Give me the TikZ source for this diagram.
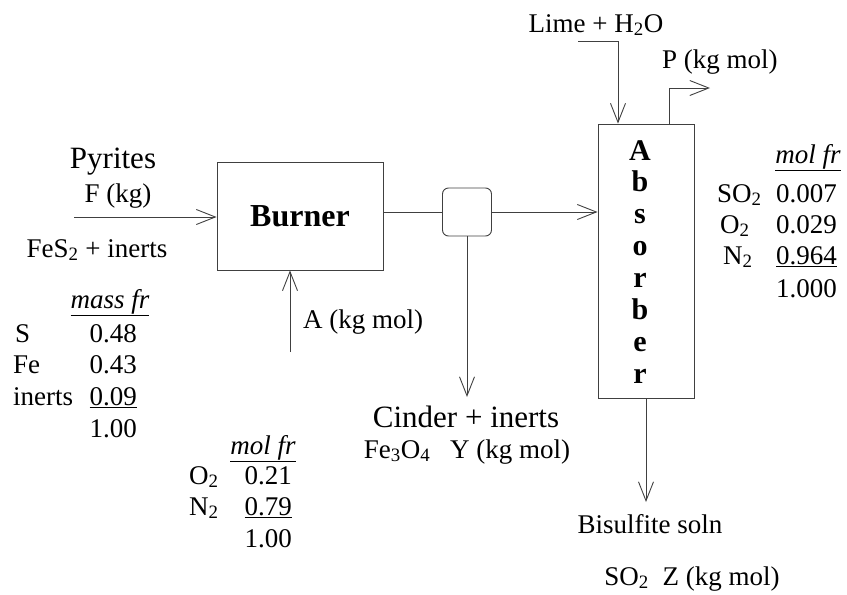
\documentclass[tikz,border=0pt]{standalone}
\usepackage{fontspec}
\setmainfont{Liberation Serif}
\usetikzlibrary{arrows.meta,positioning}
\definecolor{linegray}{HTML}{404040}
\newcommand{\chsub}[1]{\textsubscript{#1}}

\begin{document}
\begin{tikzpicture}[
  x=1pt, y=-1pt,
  unit/.style={rectangle, draw=linegray, line width=0.9pt, inner sep=0pt},
  txt/.style={inner sep=0pt, anchor=base, font=\fontsize{27}{30}\selectfont},
  bigtxt/.style={txt, font=\fontsize{31}{34}\selectfont},
  lettertxt/.style={txt, font=\fontsize{30}{32}\selectfont\bfseries},
  flow/.style={-{Straight Barb[length=19pt,width=15pt]}, line width=0.9pt, draw=linegray},
  pipe/.style={line width=0.9pt, draw=linegray}
]
\useasboundingbox (0,0) rectangle (847,595);

% process units
\node[unit, minimum width=166pt, minimum height=108pt, font=\fontsize{32}{34}\selectfont\bfseries] (burner) at (300,216) {Burner};
\node[unit, rounded corners=6pt, minimum width=49pt, minimum height=48pt] (mixer) at (467,212) {};
\node[unit, minimum width=96pt, minimum height=274pt] (absorber) at (646,261) {};
\foreach \ch [count=\i from 0] in {A,b,s,o,r,b,e,r}
  \node[lettertxt] (absletter\i) at (640,160+31.9*\i) {\ch};

% stream ends
\coordinate (feedin) at (74,217);
\coordinate (airin) at (290,352);
\coordinate (cinderout) at (467,397);
\coordinate (limein) at (578,41);
\coordinate (ventout) at (710,88);
\coordinate (solnout) at (646,502);

\draw[flow] (feedin) -- (feedin -| burner.west);
\draw[flow] (airin) -- (airin |- burner.south);
\draw[pipe] (mixer.west -| burner.east) -- (mixer.west);
\draw[flow] (mixer.east) -- (mixer.east -| absorber.west);
\draw[flow] (mixer.south) -- (cinderout);
\draw[flow] (limein) -| ([xshift=-28pt]absorber.north);
\draw[flow] ([xshift=23pt]absorber.north) |- (ventout);
\draw[flow] (absorber.south) -- (solnout);

% feed
\node[bigtxt] (pyrites) at (113,168) {Pyrites};
\node[txt] (feedkg) at (118,202) {F (kg)};
\node[txt] (feedcomp) at (97,257) {FeS\chsub{2} + inerts};
\node[txt] (massfr) at (110,308) {\underline{\textit{mass fr}}};
\node[txt, anchor=base west] (elS) at (15,342) {S};
\node[txt, anchor=base east] (valS) at (137,342) {0.48};
\node[txt, anchor=base west] (elFe) at (13,373) {Fe};
\node[txt, anchor=base east] (valFe) at (137,373) {0.43};
\node[txt, anchor=base west] (elinert) at (13,405) {inerts};
\node[txt, anchor=base east] (valinert) at (137,405) {\underline{0.09}};
\node[txt, anchor=base east] (masssum) at (137,437) {1.00};

% air
\node[txt, anchor=base west] (airlbl) at (303,328) {A (kg mol)};
\node[txt] (airfr) at (263,454) {\underline{\textit{mol fr}}};
\node[txt, anchor=base west] (airO) at (189,484) {O\chsub{2}};
\node[txt, anchor=base east] (airOval) at (292,484) {0.21};
\node[txt, anchor=base west] (airN) at (189,515) {N\chsub{2}};
\node[txt, anchor=base east] (airNval) at (292,515) {\underline{0.79}};
\node[txt, anchor=base east] (airsum) at (292,547) {1.00};

% cinder
\node[bigtxt] (cinder) at (466,427) {Cinder + inerts};
\node[txt] (cindercomp) at (467,458) {Fe\chsub{3}O\chsub{4}\hspace{20pt}Y (kg mol)};

% absorber streams
\node[txt] (lime) at (596,32) {Lime + H\chsub{2}O};
\node[txt, anchor=base west] (ventlbl) at (662,68) {P (kg mol)};
\node[txt] (ventfr) at (808,163) {\underline{\textit{mol fr}}};
\node[txt, anchor=base west] (ventS) at (717,202) {SO\chsub{2}};
\node[txt, anchor=base east] (ventSval) at (837,202) {0.007};
\node[txt, anchor=base west] (ventO) at (720,233) {O\chsub{2}};
\node[txt, anchor=base east] (ventOval) at (837,233) {0.029};
\node[txt, anchor=base west] (ventN) at (723,264) {N\chsub{2}};
\node[txt, anchor=base east] (ventNval) at (837,264) {\underline{0.964}};
\node[txt, anchor=base east] (ventsum) at (837,297) {1.000};
\node[txt] (soln) at (650,533) {Bisulfite soln};
\node[txt] (solncomp) at (692,585) {SO\chsub{2}\hspace{14pt}Z (kg mol)};
\end{tikzpicture}
\end{document}
